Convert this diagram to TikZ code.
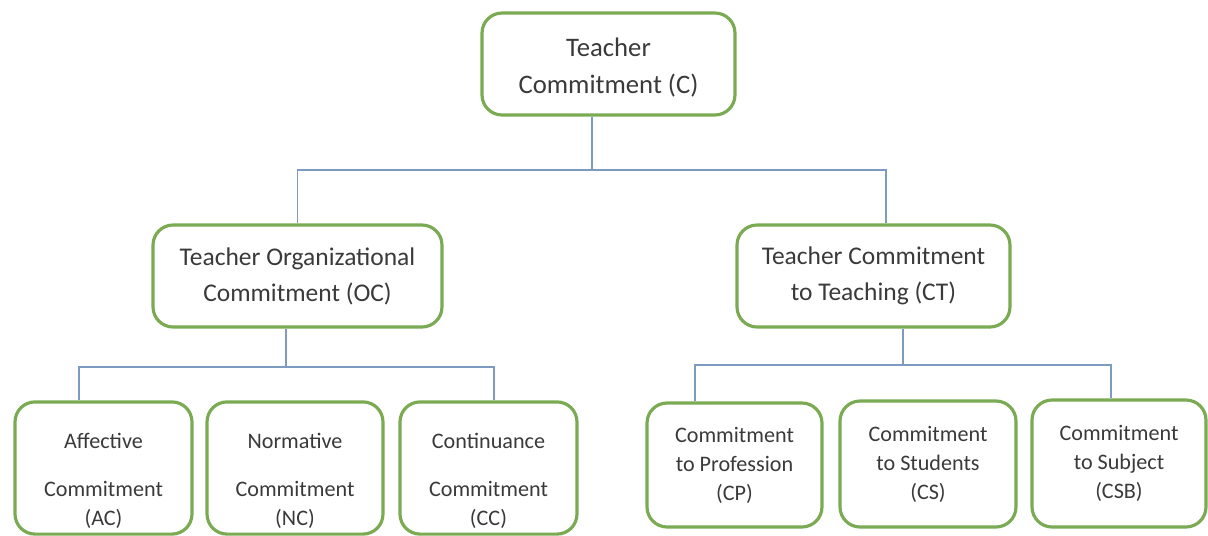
\documentclass[tikz,border=0pt]{standalone}
\usepackage{fontspec}
\setmainfont{Carlito}
\usepackage{tikz}
\definecolor{boxgreen}{RGB}{122, 170, 82}
\definecolor{linkblue}{RGB}{125, 155, 192}
\definecolor{ink}{RGB}{58, 58, 58}

\tikzset{
  topbox/.style={draw=boxgreen, line width=1.8pt, rounded corners=0.4cm, fill=white,
    text=ink, align=center, font=\fontsize{14.5}{20.5}\selectfont},
  leafbox/.style={topbox, font=\fontsize{12.6}{16.5}\selectfont},
  link/.style={draw=linkblue, line width=0.7pt}
}
% pushes the first line of the left leaves a little down
\newcommand{\leafgap}{\rule{0pt}{23pt}}

\begin{document}
\begin{tikzpicture}[x=0.02cm, y=-0.02cm]
  \useasboundingbox (0, 0) rectangle (1208, 535);

  % main construct
  \node[topbox, font=\fontsize{15.2}{21}\selectfont, minimum width=5.06cm, minimum height=2.04cm]
    (C) at (608.5, 64) {\rule{0pt}{15pt}Teacher\\Commitment (C)};

  % two dimensions
  \node[topbox, minimum width=5.78cm, minimum height=2.04cm] (OC) at (297.5, 276)
    {Teacher Organizational\\Commitment (OC)};
  \node[topbox, minimum width=5.46cm, minimum height=2.04cm] (CT) at (873.5, 276)
    {Teacher Commitment\\to Teaching (CT)};

  % organizational side
  \node[leafbox, minimum width=3.54cm, minimum height=2.6cm] (AC) at (103.5, 468)
    {\leafgap Affective\\[0.38cm]Commitment\\(AC)};
  \node[leafbox, minimum width=3.52cm, minimum height=2.6cm] (NC) at (295, 468)
    {\leafgap Normative\\[0.38cm]Commitment\\(NC)};
  \node[leafbox, minimum width=3.54cm, minimum height=2.6cm] (CC) at (488.5, 468)
    {\leafgap Continuance\\[0.38cm]Commitment\\(CC)};

  % teaching side
  \node[leafbox, minimum width=3.5cm, minimum height=2.48cm] (CP) at (734.5, 465)
    {Commitment\\to Profession\\(CP)};
  \node[leafbox, minimum width=3.52cm, minimum height=2.52cm] (CS) at (928, 464)
    {Commitment\\to Students\\(CS)};
  \node[leafbox, minimum width=3.48cm, minimum height=2.54cm] (CSB) at (1119, 463.5)
    {Commitment\\to Subject\\(CSB)};

  % connectors
  \coordinate (j1) at (592, 170);
  \coordinate (j2) at (286, 367);
  \coordinate (j3) at (903, 365);

  \draw[link] (C.south -| j1) -- (j1);
  \draw[link] (OC.north) |- (j1) -| ([xshift=0.25cm]CT.north);

  \draw[link] (OC.south -| j2) -- (j2);
  \draw[link] ([xshift=-0.49cm]AC.north) |- (j2) -| ([xshift=0.11cm]CC.north);

  \draw[link] (CT.south -| j3) -- (j3);
  \draw[link] ([xshift=-0.79cm]CP.north) |- (j3) -| ([xshift=-0.16cm]CSB.north);
\end{tikzpicture}
\end{document}
